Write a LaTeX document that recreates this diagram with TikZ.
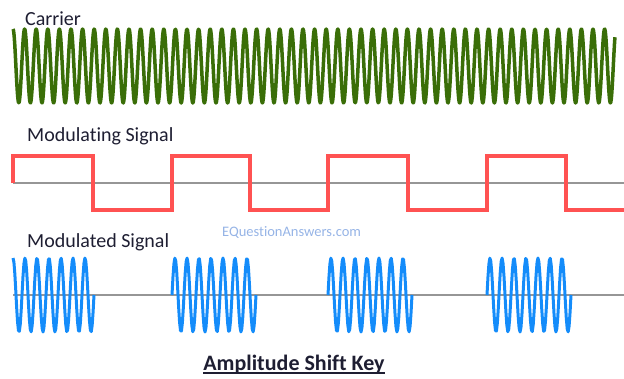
\documentclass[tikz,border=0pt]{standalone}
\usepackage{fontspec}
\setmainfont{Carlito}[Ligatures=NoCommon]
\definecolor{carrierGreen}{RGB}{58,110,8}
\definecolor{signalRed}{RGB}{255,82,82}
\definecolor{askBlue}{RGB}{20,140,250}
\definecolor{axisGray}{RGB}{150,150,150}
\definecolor{markBlue}{RGB}{150,180,230}
\definecolor{labelInk}{RGB}{30,30,50}
\tikzset{
  wave label/.style={anchor=base west, inner sep=0pt, text=labelInk, font=\fontsize{20}{24}\selectfont},
  axis line/.style={axisGray, line width=1.5pt},
  burst/.style={askBlue, line width=3pt, samples=90, line join=round},
}
\begin{document}
\begin{tikzpicture}[x=1pt, y=-1pt]
\useasboundingbox (0,0) rectangle (624,378);
%
% carrier (variable counts cycles)
\draw[carrierGreen, line width=3.5pt, samples=1300, domain=0:51.9, variable=\t, line join=round]
  plot ({13+11.6*\t}, {66-37*cos(360*mod(\t,1))});
\node[wave label] (carrier) at (25,25) {Carrier};
%
% modulating signal
\draw[axis line] (13,183) -- (624,183);
\draw[signalRed, line width=4pt] (13,183) |- (93,156) |- (172,210) |- (250,156) |- (328,210)
   |- (408,156) |- (487,210) |- (566,156) |- (624,210);
\node[wave label] (modulating) at (27,141) {Modulating Signal};
%
% modulated signal, period 12 -> 30 degrees per unit
\draw[axis line] (13,295) -- (624,295);
\draw[burst, domain=13:94] plot (\x, {295-37*cos(30*(\x-13))});
\foreach \s/\e in {172/256, 328/412, 487/571}
  \draw[burst, domain=\s:\e] plot (\x, {295-37*sin(30*(\x-\s))});
\node[wave label] (modulated) at (27,247) {Modulated Signal};
%
\node[anchor=base west, inner sep=0pt, text=markBlue, font=\fontsize{14.5}{17}\selectfont] (site) at (222,236) {EQuestionAnswers.com};
%
\node[anchor=base, inner sep=0pt, text=labelInk, font=\bfseries\fontsize{22}{26}\selectfont] (title) at (294,370.5) {Amplitude Shift Key};
\draw[labelInk, line width=1.2pt] ([yshift=-2.5pt]title.base west) -- ([yshift=-2.5pt]title.base east);
\end{tikzpicture}
\end{document}
